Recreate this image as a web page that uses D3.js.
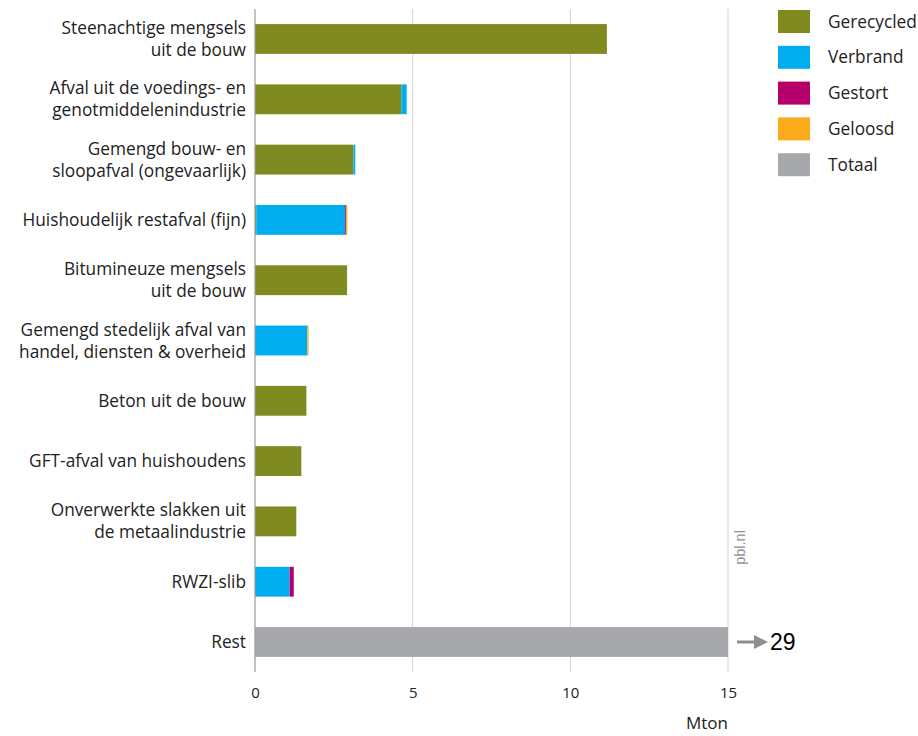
<!DOCTYPE html>
<html>
<head>
<meta charset="utf-8">
<script src="https://cdn.jsdelivr.net/npm/d3@7"></script>
<style>
  body { margin: 0; background: #fff; }
  text { font-family: "Open Sans", "Noto Sans", sans-serif; }
</style>
</head>
<body>
<div id="chart"></div>
<script>
//chart data (Mton)
let categories = [
    ["Steenachtige mengsels", "uit de bouw"],
    ["Afval uit de voedings- en", "genotmiddelenindustrie"],
    ["Gemengd bouw- en", "sloopafval (ongevaarlijk)"],
    ["Huishoudelijk restafval (fijn)"],
    ["Bitumineuze mengsels", "uit de bouw"],
    ["Gemengd stedelijk afval van", "handel, diensten & overheid"],
    ["Beton uit de bouw"],
    ["GFT-afval van huishoudens"],
    ["Onverwerkte slakken uit", "de metaalindustrie"],
    ["RWZI-slib"],
    ["Rest"]
];
let series_names = ["Gerecycled", "Verbrand", "Gestort", "Geloosd", "Totaal"];
let gerecycled = [11.16, 4.64, 3.12, 0.04, 2.92, 0, 1.63, 1.47, 1.31, 0, 0];
let verbrand   = [0, 0.17, 0.06, 2.82, 0, 1.66, 0, 0, 0, 1.10, 0];
let gestort    = [0, 0, 0, 0.03, 0, 0, 0, 0, 0, 0.13, 0];
let geloosd    = [0, 0, 0, 0.04, 0, 0.04, 0, 0, 0, 0, 0];
let totaal     = [0, 0, 0, 0, 0, 0, 0, 0, 0, 0, 15];
let rest_real = 29;
let x_ticks = [0, 5, 10, 15];

let colors = ["#7f8a21", "#00aeef", "#b5006c", "#fbab1b", "#a7a8ab"];

//==========================================================
let width_svg = 918;
let height_svg = 736;
let margin = { top: 9, left: 255, right: 190, bottom: 64 };
let width = 473;
let height = height_svg - margin.top - margin.bottom;

let svg = d3.select("#chart").append("svg")
            .attr("width", width_svg)
            .attr("height", height_svg);

let chart = svg.append("g")
               .attr("transform", `translate(${margin.left}, ${margin.top})`);

let x_scale = d3.scaleLinear().domain([0, 15]).range([0, width]);
let y_scale = d3.scaleBand()
                .domain(d3.range(categories.length))
                .range([0, height])
                .paddingInner(0.505)
                .paddingOuter(0.25);

//gridlines
chart.append("g")
     .selectAll("line")
     .data(x_ticks.slice(1))
     .enter()
     .append("line")
     .attr("x1", d => x_scale(d))
     .attr("x2", d => x_scale(d))
     .attr("y1", 0)
     .attr("y2", height)
     .attr("stroke", "#d3d3d5")
     .attr("stroke-width", 1);

//stacked bars
let rows = categories.map((c, i) => ({
    Gerecycled: gerecycled[i], Verbrand: verbrand[i], Gestort: gestort[i],
    Geloosd: geloosd[i], Totaal: totaal[i], index: i
}));
let stack = d3.stack().keys(series_names)(rows);

chart.append("g")
     .selectAll("g")
     .data(stack)
     .enter()
     .append("g")
     .attr("fill", (d, i) => colors[i])
     .selectAll("rect")
     .data(d => d.filter(p => p[1] - p[0] > 0))
     .enter()
     .append("rect")
     .attr("x", p => x_scale(p[0]))
     .attr("y", p => y_scale(p.data.index))
     .attr("width", p => x_scale(p[1]) - x_scale(p[0]))
     .attr("height", y_scale.bandwidth());

//y axis line
chart.append("line")
     .attr("x1", 0).attr("x2", 0)
     .attr("y1", 0).attr("y2", height)
     .attr("stroke", "#9a9a9c")
     .attr("stroke-width", 1.2);

//x axis tick labels
let x_axis = chart.append("g")
                  .attr("transform", `translate(0, ${height})`)
                  .call(d3.axisBottom(x_scale).tickValues(x_ticks).tickSize(0).tickPadding(15));
x_axis.select(".domain").remove();
x_axis.selectAll("text")
      .attr("font-size", 15)
      .attr("fill", "#222")
      .style("font-family", "\"Open Sans\", sans-serif");

chart.append("text")
     .attr("x", x_scale(15))
     .attr("y", height + 57)
     .attr("text-anchor", "end")
     .attr("font-size", 17)
     .attr("fill", "#222")
     .text("Mton");

//category labels
let labels = chart.append("g")
                  .selectAll("text")
                  .data(categories)
                  .enter()
                  .append("text")
                  .attr("text-anchor", "end")
                  .attr("font-size", 17.3)
                  .attr("fill", "#222")
                  .attr("transform", (d, i) => `translate(-9, ${y_scale(i) + y_scale.bandwidth() / 2})`);
labels.selectAll("tspan")
      .data(d => d.map((t, j) => ({ t: t, j: j, n: d.length })))
      .enter()
      .append("tspan")
      .attr("x", 0)
      .attr("y", l => (l.j - (l.n - 1) / 2) * 22)
      .attr("dy", "0.35em")
      .text(l => l.t);

//overflow arrow for Rest
let rest_y = y_scale(categories.length - 1) + y_scale.bandwidth() / 2;
chart.append("line")
     .attr("x1", x_scale(15) + 9)
     .attr("x2", x_scale(15) + 30)
     .attr("y1", rest_y).attr("y2", rest_y)
     .attr("stroke", "#8e8f92")
     .attr("stroke-width", 3);
chart.append("path")
     .attr("d", `M${x_scale(15) + 26},${rest_y - 7} L${x_scale(15) + 40},${rest_y} L${x_scale(15) + 26},${rest_y + 7} Z`)
     .attr("fill", "#8e8f92");
chart.append("text")
     .attr("x", x_scale(15) + 42)
     .attr("y", rest_y)
     .attr("dy", "0.36em")
     .attr("font-size", 23)
     .attr("fill", "#000")
     .style("font-family", "\"Liberation Sans\", Arial, sans-serif")
     .text(rest_real);

//source label
chart.append("text")
     .attr("transform", `translate(${x_scale(15) + 17}, ${y_scale(9) - 2}) rotate(-90)`)
     .attr("font-size", 14.5)
     .attr("fill", "#8e8f92")
     .style("font-family", "\"Liberation Sans\", Arial, sans-serif")
     .text("pbl.nl");

//legend
let legend = svg.append("g")
                .attr("transform", "translate(778, 10)");
let legend_items = legend.selectAll("g")
                         .data(series_names)
                         .enter()
                         .append("g")
                         .attr("transform", (d, i) => `translate(0, ${i * 35.8})`);
legend_items.append("rect")
            .attr("width", 32)
            .attr("height", 23)
            .attr("fill", (d, i) => colors[i]);
legend_items.append("text")
            .attr("x", 50)
            .attr("y", 11.5)
            .attr("dy", "0.35em")
            .attr("font-size", 17.3)
            .attr("fill", "#222")
            .text(d => d);
</script>
</body>
</html>
